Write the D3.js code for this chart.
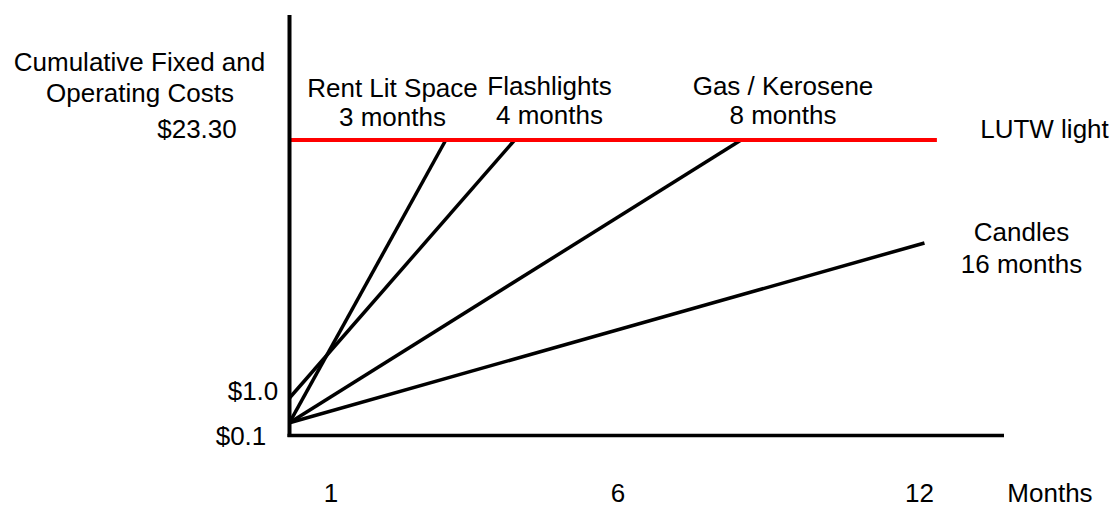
<!DOCTYPE html>
<html>
<head>
<meta charset="utf-8">
<script src="https://cdn.jsdelivr.net/npm/d3@7"></script>
<style>
  body { margin: 0; background: #fff; }
  text { font-family: "Liberation Sans", Arial, sans-serif; font-size: 26px; fill: #000; }
</style>
</head>
<body>
<script>
// values (months on x, cumulative cost in $ on y)
var seriesNames = ["Rent Lit Space", "Flashlights", "Gas / Kerosene", "Candles"];
var startCosts = [0.1, 1.0, 0.1, 0.1];
var endMonths = [3.0, 4.2, 8.45, 12.1];
var endCosts = [23.3, 23.3, 23.3, 14.4];
var paybackLabels = ["3 months", "4 months", "8 months", "16 months"];

var lutwCost = 23.3;
var lutwEndMonth = 12.35;

var xTickValues = [1, 6, 12];
var xTickLabels = ["1", "6", "12"];
var yTickValues = [0.1, 1.0, 23.3];
var yTickLabels = ["$0.1", "$1.0", "$23.30"];

var width = 1115, height = 506;

// the drawing is schematic, so both scales are piecewise linear
var x = d3.scaleLinear()
  .domain([0, 1, 6, 12, 13.7])
  .range([289.5, 331, 618, 919.5, 1004]);
var y = d3.scaleLinear()
  .domain([0, 0.1, 1.0, 23.3, 34.1])
  .range([435.5, 422.7, 398, 140, 15]);

var svg = d3.select('body').append('svg')
  .attr('width', width)
  .attr('height', height);

// cost lines
var lineGen = d3.line().x(function (d) { return x(d[0]); }).y(function (d) { return y(d[1]); });
seriesNames.forEach(function (name, i) {
  svg.append('path')
    .attr('d', lineGen([[0, startCosts[i]], [endMonths[i], endCosts[i]]]))
    .attr('stroke', '#000')
    .attr('stroke-width', 3.5)
    .attr('fill', 'none');
});

// LUTW light level
svg.append('line')
  .attr('x1', x(0)).attr('x2', x(lutwEndMonth))
  .attr('y1', y(lutwCost)).attr('y2', y(lutwCost))
  .attr('stroke', '#ff0000')
  .attr('stroke-width', 4);

// axes
svg.append('line')
  .attr('x1', x(0)).attr('x2', x(0))
  .attr('y1', y(34.1)).attr('y2', y(0) + 1.5)
  .attr('stroke', '#000').attr('stroke-width', 4);
svg.append('line')
  .attr('x1', x(0) - 2).attr('x2', x(13.7))
  .attr('y1', y(0)).attr('y2', y(0))
  .attr('stroke', '#000').attr('stroke-width', 3.5);

// x tick labels
xTickValues.forEach(function (v, i) {
  svg.append('text')
    .attr('x', x(v)).attr('y', 502)
    .attr('text-anchor', 'middle')
    .text(xTickLabels[i]);
});
svg.append('text').attr('x', 1050).attr('y', 502).attr('text-anchor', 'middle').text('Months');

// y tick labels (each sits a little off its level in the original)
var yLabelX = [241, 253, 197];
var yLabelDy = [22, 2, -2];
yTickValues.forEach(function (v, i) {
  svg.append('text')
    .attr('x', yLabelX[i]).attr('y', y(v) + yLabelDy[i])
    .attr('text-anchor', 'middle')
    .text(yTickLabels[i]);
});

svg.append('text').attr('x', 139.5).attr('y', 70.5).attr('text-anchor', 'middle').text('Cumulative Fixed and');
svg.append('text').attr('x', 140).attr('y', 101.5).attr('text-anchor', 'middle').text('Operating Costs');

// series annotations
var labelX = [392.5, 549.5, 783, 1021.5];
var labelY = [97, 95, 95, 240.5];
seriesNames.forEach(function (name, i) {
  var t = svg.append('text')
    .attr('x', labelX[i]).attr('y', labelY[i])
    .attr('text-anchor', 'middle');
  t.append('tspan').attr('x', labelX[i]).text(name);
  t.append('tspan').attr('x', labelX[i]).attr('dy', i === 3 ? 32 : 29).text(paybackLabels[i]);
});

svg.append('text').attr('x', 1044.5).attr('y', 138).attr('text-anchor', 'middle').text('LUTW light');
</script>
</body>
</html>
